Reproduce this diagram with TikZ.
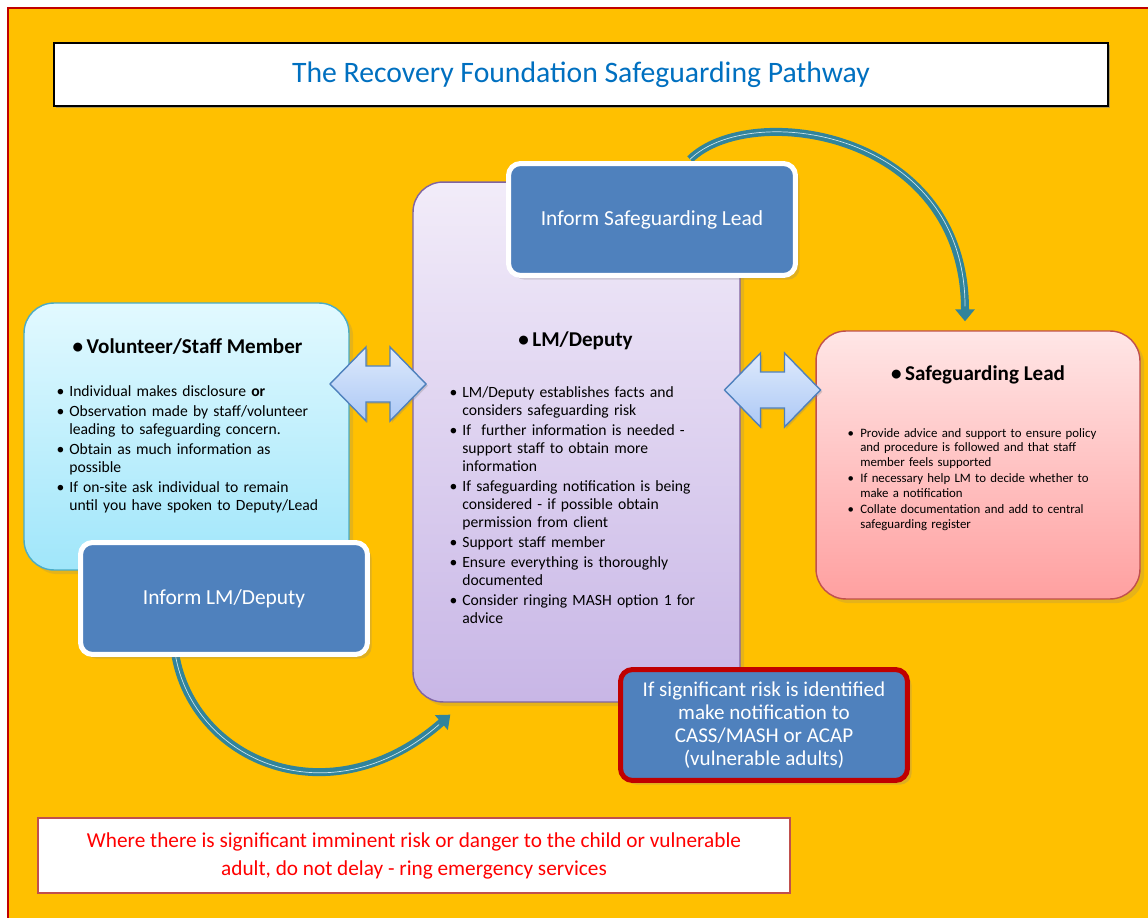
\documentclass[tikz,border=0pt]{standalone}
\usepackage{fontspec}
\setmainfont{Carlito}
\usetikzlibrary{arrows.meta,calc,shadows}
\definecolor{gold}{RGB}{255,192,0}
\definecolor{framered}{RGB}{192,0,0}
\definecolor{titleblue}{RGB}{0,112,192}
\definecolor{stepblue}{RGB}{79,129,189}
\definecolor{skytop}{RGB}{226,249,255}
\definecolor{skybot}{RGB}{160,230,250}
\definecolor{skyline}{RGB}{75,172,198}
\definecolor{lilactop}{RGB}{242,236,249}
\definecolor{lilacbot}{RGB}{200,182,230}
\definecolor{lilacline}{RGB}{128,100,162}
\definecolor{rosetop}{RGB}{255,230,230}
\definecolor{rosebot}{RGB}{255,160,160}
\definecolor{roseline}{RGB}{192,80,77}
\definecolor{arrtop}{RGB}{222,234,252}
\definecolor{arrbot}{RGB}{172,200,245}
\definecolor{arrline}{RGB}{79,129,189}
\definecolor{curlteal}{RGB}{49,132,155}
\definecolor{curlshine}{RGB}{205,228,236}
\definecolor{alarmred}{RGB}{255,0,0}
% one bullet point with hanging indent
\newcommand\blt[1]{\par\noindent\hangindent=7.2pt\hangafter=1\makebox[7.2pt][l]{\textbullet}#1\par}
\tikzset{
  panel/.style={draw=#1line,top color=#1top,bottom color=#1bot,line width=0.8pt,
    rounded corners=0.6cm,drop shadow={opacity=0.2}},
  head/.style={font=\fontsize{12}{14}\selectfont\bfseries,inner sep=0pt},
  points/.style={anchor=north west,inner sep=0pt,text width=5.6cm,align=left,
    font=\fontsize{8.9}{10.2}\selectfont\setlength{\parskip}{1.2pt}},
  small points/.style={points,font=\fontsize{7.3}{8.2}\selectfont\setlength{\parskip}{1.3pt}},
  stepbox/.style={fill=stepblue,draw=white,line width=1mm,rounded corners=0.24cm,
    text=white,align=center,font=\fontsize{12.2}{14}\selectfont,
    minimum width=5.74cm,minimum height=2.24cm,drop shadow={opacity=0.25}},
  curl/.style={draw=curlteal,line width=0.16cm,-{Triangle[width=0.38cm,length=0.24cm]},
    postaction={draw=curlshine,line width=0.4pt,-,shorten >=0.3cm}},
  % two-headed block arrow
  pics/dblarrow/.style={code={
    \shade[top color=arrtop,bottom color=arrbot,draw=arrline,line width=0.8pt,
      drop shadow={opacity=0.3,shadow xshift=1pt,shadow yshift=-1pt}]
      (-48,0) -- (-12,-37) -- (-12,-18) -- (12,-18) -- (12,-37) -- (48,0)
      -- (12,37) -- (12,18) -- (-12,18) -- (-12,37) -- cycle;
  }},
}

\begin{document}
\begin{tikzpicture}[x=0.02cm,y=-0.02cm]
  \useasboundingbox (0,0) rectangle (1148,918);
  \fill[gold] (7,7) rectangle (1148,918);
  \draw[framered,line width=1.2pt] (8,918) -- (8,8) -- (1148,8);

  \node[draw=black,line width=0.85pt,fill=white,minimum width=21.08cm,minimum height=1.26cm,
    text=titleblue,font=\fontsize{16.9}{20}\selectfont,
    drop shadow={opacity=0.6,shadow xshift=1.2pt,shadow yshift=-1.2pt}]
    (title) at (581,74.5) {The Recovery Foundation Safeguarding Pathway};

  % the three roles
  \node[panel=sky,minimum width=6.5cm,minimum height=5.34cm] (vol) at (186.5,436.5) {};
  \node[panel=lilac,minimum width=6.54cm,minimum height=10.4cm] (lm) at (576.5,442) {};
  \node[panel=rose,minimum width=6.48cm,minimum height=5.36cm] (sl) at (978,465) {};

  \node[head] (volh) at ($(vol.north)+(1,44)$) {\textbullet\,Volunteer/Staff Member};
  \node[points] (volp) at ($(vol.north west)+(33,74)$) {%
    \blt{Individual makes disclosure \textbf{or}}
    \blt{Observation made by staff/volunteer\newline leading to safeguarding concern.}
    \blt{Obtain as much information as\newline possible}
    \blt{If on-site ask individual to remain\newline until you have spoken to Deputy/Lead}};

  \node[head] (lmh) at ($(lm.north)+(-1,159)$) {\textbullet\,LM/Deputy};
  \node[points] (lmp) at ($(lm.north west)+(37,196)$) {%
    \blt{LM/Deputy establishes facts and\newline considers safeguarding risk}
    \blt{If\ \ further information is needed -\newline support staff to obtain more\newline information}
    \blt{If safeguarding notification is being\newline considered - if possible obtain\newline permission from client}
    \blt{Support staff member}
    \blt{Ensure everything is thoroughly\newline documented}
    \blt{Consider ringing MASH option 1 for\newline advice}};

  \node[head] (slh) at ($(sl.north)+(0,45)$) {\textbullet\,Safeguarding Lead};
  \node[small points] (slp) at ($(sl.north west)+(32,90)$) {%
    \blt{Provide advice and support to ensure policy\newline and procedure is followed and that staff\newline member feels supported}
    \blt{If necessary help LM to decide whether to\newline make a notification}
    \blt{Collate documentation and add to central\newline safeguarding register}};

  % curved hand-over arrows, under the step boxes
  \draw[curl] ($(sl.north)+(-288,-171)$) .. controls ($(sl.north)+(-228,-230)$)
    and ($(sl.north)+(-13,-200)$) .. ($(sl.north)+(-13,-9)$);
  \draw[curl] ($(lm.south west)+(-237,-48)$) .. controls ($(lm.south west)+(-219,58)$)
    and ($(lm.south west)+(-83,118)$) .. ($(lm.south west)+(38,12)$);

  \node[stepbox] (isl) at (652,219.5) {Inform Safeguarding Lead};
  \node[stepbox] (ilm) at (224,598.5) {Inform LM/Deputy};

  \pic at (378,384) {dblarrow};
  \pic at (772.5,390) {dblarrow};

  \node[stepbox,draw=framered,minimum height=2.22cm,font=\fontsize{12}{13}\selectfont]
    (notify) at (764,725) {If significant risk is identified\\make notification to\\CASS/MASH or ACAP\\(vulnerable adults)};

  \node[draw=roseline,line width=1.2pt,fill=white,minimum width=15.04cm,minimum height=1.5cm,
    align=center,text=alarmred,font=\fontsize{12.1}{15.9}\selectfont]
    (alarm) at (414,855.5) {Where there is significant imminent risk or danger to the child or vulnerable\\adult, do not delay - ring emergency services};
\end{tikzpicture}
\end{document}
